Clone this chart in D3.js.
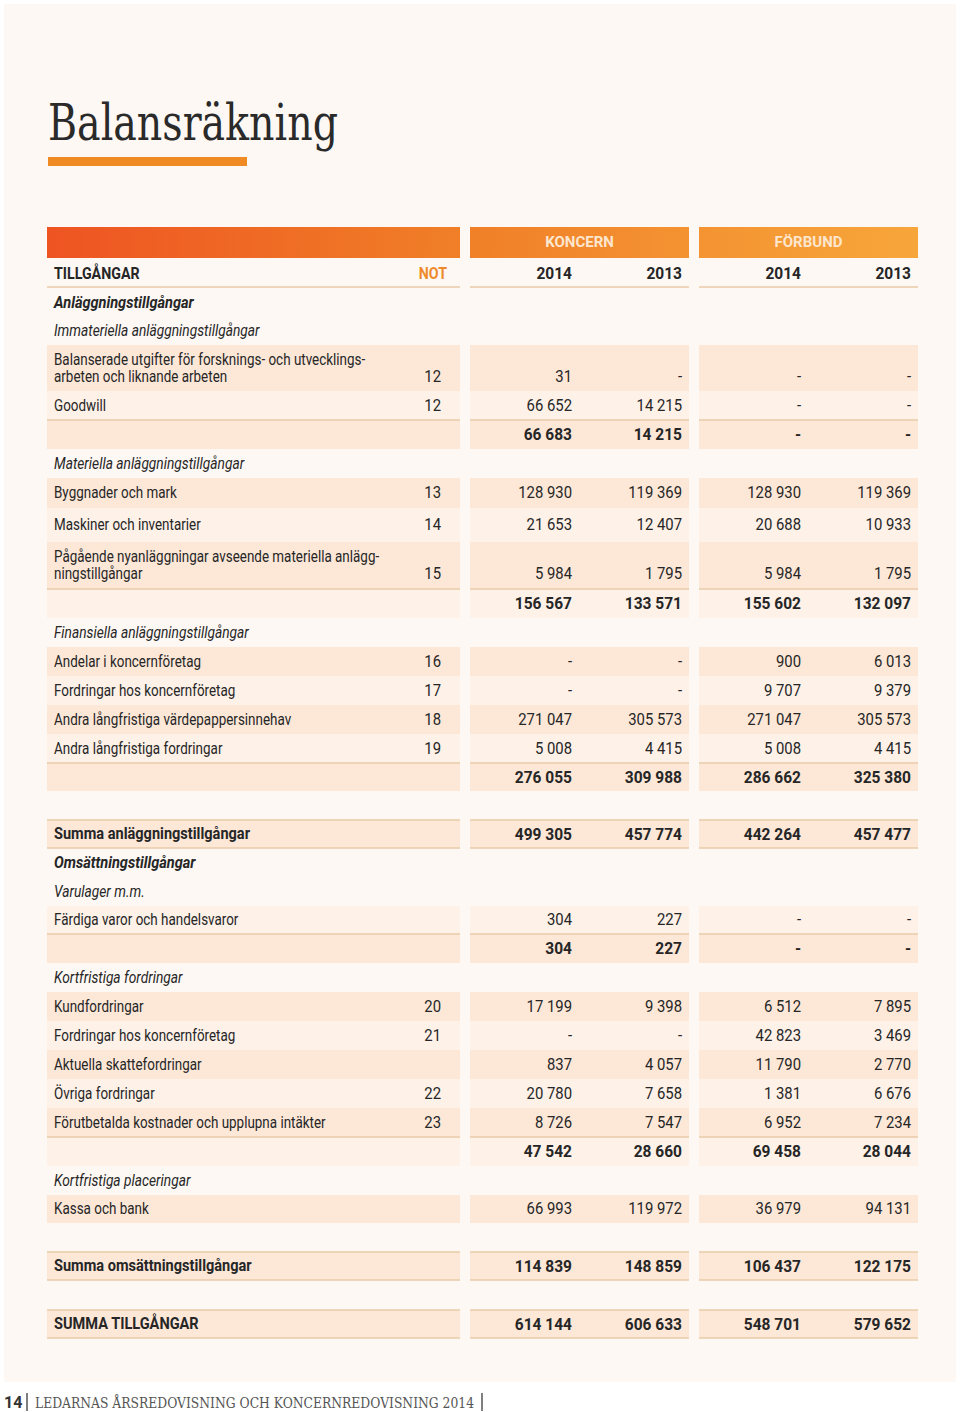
<!DOCTYPE html>
<html><head><meta charset="utf-8">
<script src="https://cdn.jsdelivr.net/npm/d3@7"></script>
<style>
html,body{margin:0;padding:0;background:#ffffff;}
svg{display:block;}
</style></head>
<body>
<script>
// ---------- DATA ----------
const rowLabels = [
  "TILLGÅNGAR","Anläggningstillgångar","Immateriella anläggningstillgångar",
  "Balanserade utgifter för forsknings- och utvecklings-\narbeten och liknande arbeten","Goodwill","",
  "Materiella anläggningstillgångar","Byggnader och mark","Maskiner och inventarier",
  "Pågående nyanläggningar avseende materiella anlägg-\nningstillgångar","",
  "Finansiella anläggningstillgångar","Andelar i koncernföretag","Fordringar hos koncernföretag",
  "Andra långfristiga värdepappersinnehav","Andra långfristiga fordringar","",
  "","Summa anläggningstillgångar","Omsättningstillgångar","Varulager m.m.",
  "Färdiga varor och handelsvaror","","Kortfristiga fordringar","Kundfordringar",
  "Fordringar hos koncernföretag","Aktuella skattefordringar","Övriga fordringar",
  "Förutbetalda kostnader och upplupna intäkter","","Kortfristiga placeringar","Kassa och bank",
  "","Summa omsättningstillgångar","","SUMMA TILLGÅNGAR"
];
const rowKinds = [
  "colhead","h1","h2","item2","item","sub","h2","item","item","item2","sub",
  "h2","item","item","item","item","sub","gap","total","h1","h2","item","sub",
  "h2","item","item","item","item","item","sub","h2","item","gap","total","gap","total"
];
const notes = [
  "NOT","","","12","12","","","13","14","15","","","16","17","18","19","","","","","",
  "","","","20","21","","22","23","","","","","","",""
];
const groupTitles = ["KONCERN","FÖRBUND"];
const yearLabels = ["2014","2013","2014","2013"];
// null = blank, 0 = "-"
const koncern2014 = [null,null,null,31,66652,66683,null,128930,21653,5984,156567,null,0,0,271047,5008,276055,null,499305,null,null,304,304,null,17199,0,837,20780,8726,47542,null,66993,null,114839,null,614144];
const koncern2013 = [null,null,null,0,14215,14215,null,119369,12407,1795,133571,null,0,0,305573,4415,309988,null,457774,null,null,227,227,null,9398,0,4057,7658,7547,28660,null,119972,null,148859,null,606633];
const forbund2014 = [null,null,null,0,0,0,null,128930,20688,5984,155602,null,900,9707,271047,5008,286662,null,442264,null,null,0,0,null,6512,42823,11790,1381,6952,69458,null,36979,null,106437,null,548701];
const forbund2013 = [null,null,null,0,0,0,null,119369,10933,1795,132097,null,6013,9379,305573,4415,325380,null,457477,null,null,0,0,null,7895,3469,2770,6676,7234,28044,null,94131,null,122175,null,579652];
const titleText = "Balansräkning";
const footerPage = "14";
const footerText = "LEDARNAS ÅRSREDOVISNING OCH KONCERNREDOVISNING 2014";

// ---------- LAYOUT ----------
const W = 960, H = 1412;
const rowHeights = [29,29,28,46,29,29,29,30,34,47,29,29,29,29,29,29,28,29,28,29,29,28,29,29,29,29,29,29,29,29,29,28,29,28,30,28];
const shade = ["","","","d","l","d","","d","l","d","l","","d","l","d","l","d","","d","","","l","d","","d","l","d","l","d","l","","d","","d","","d"];
const y0 = 259;
const rowTop = [];
rowHeights.reduce((acc,h,i)=>{rowTop[i]=acc;return acc+h;}, y0);

const blocks = [[47,460],[470,689],[699,918]];
const valueCols = ["k14","k13","f14","f13"];
const xCol = d3.scaleOrdinal().domain(valueCols).range([572,682,801,911]);
const colData = {k14:koncern2014,k13:koncern2013,f14:forbund2014,f13:forbund2013};
const loc = d3.formatLocale({decimal:",", thousands:" ", grouping:[3], currency:["",""]});
const fmt = loc.format(",d");
const fmtVal = v => v === null ? "" : (v === 0 ? "-" : fmt(v));

const BODY = "'Roboto', sans-serif";
const SERIF = "'DejaVu Serif Condensed','DejaVu Serif', serif";
const colText = "#262626";
const lineCol = "#e9cba8";
const darkFill = "#fde8d8";
const lightFill = "#fdf1e8";
// horizontal condensing factors to mimic the narrow original face
const SX = {lbl:0.84, lblBold:0.91, lblItal:0.86, num:0.93, numBold:0.97, head:0.89};
const place = (x,s) => `translate(${x},0) scale(${s},1)`;

const svg = d3.select("body").append("svg").attr("width",W).attr("height",H);
const defs = svg.append("defs");
const grad = defs.append("linearGradient").attr("id","hdr").attr("gradientUnits","userSpaceOnUse")
  .attr("x1",47).attr("x2",918).attr("y1",0).attr("y2",0);
grad.append("stop").attr("offset","0%").attr("stop-color","#ee5422");
grad.append("stop").attr("offset","45%").attr("stop-color","#f07d27");
grad.append("stop").attr("offset","100%").attr("stop-color","#f7a63b");

// page panel
svg.append("rect").attr("x",0).attr("y",0).attr("width",W).attr("height",H).attr("fill","#ffffff");
svg.append("rect").attr("x",4).attr("y",4).attr("width",952).attr("height",1378).attr("fill","#fdf8f4");

// title
svg.append("text").attr("x",48).attr("y",140).text(titleText)
  .attr("font-family",SERIF).attr("font-size",50).attr("fill","#2a2a2a")
  .attr("textLength",290).attr("lengthAdjust","spacingAndGlyphs");
svg.append("rect").attr("x",48).attr("y",157).attr("width",199).attr("height",9).attr("fill","#f08a22");

// header bars
svg.selectAll("rect.hdr").data(blocks).join("rect").attr("class","hdr")
  .attr("x",d=>d[0]).attr("y",227).attr("width",d=>d[1]-d[0]).attr("height",31).attr("fill","url(#hdr)");
svg.selectAll("text.grp").data(groupTitles).join("text").attr("class","grp")
  .attr("x",(d,i)=>(blocks[i+1][0]+blocks[i+1][1])/2).attr("y",247)
  .attr("text-anchor","middle").attr("font-family",BODY).attr("font-weight",700)
  .attr("font-size",15).attr("fill","#fde6ce").text(d=>d);

// row backgrounds
const rows = rowLabels.map((label,i)=>({i,label,kind:rowKinds[i],note:notes[i],top:rowTop[i],h:rowHeights[i],shade:shade[i]}));
const shaded = rows.filter(r=>r.shade);
blocks.forEach(b=>{
  svg.append("g").selectAll("rect").data(shaded).join("rect")
    .attr("x",b[0]).attr("y",r=>r.top).attr("width",b[1]-b[0]).attr("height",r=>r.h)
    .attr("fill",r=>r.shade==="d"?darkFill:lightFill);
});

// lines
const lineYs = [];
rows.forEach(r=>{
  if (r.kind==="colhead") lineYs.push(r.top+r.h-1);
  if (r.kind==="total") { lineYs.push(r.top); lineYs.push(r.top+r.h); }
  if ((r.kind==="item"||r.kind==="item2") && rows[r.i+1] && rows[r.i+1].kind==="sub") lineYs.push(r.top+r.h);
});
blocks.forEach(b=>{
  svg.append("g").selectAll("line").data(lineYs).join("line")
    .attr("x1",b[0]).attr("x2",b[1]).attr("y1",d=>d).attr("y2",d=>d)
    .attr("stroke",lineCol).attr("stroke-width",1.5);
});

// labels
const textY = r => r.kind==="item2" ? r.top+32 : r.top + r.h/2;
const isBold = r => r.kind==="colhead"||r.kind==="h1"||r.kind==="total";
const isItal = r => r.kind==="h1"||r.kind==="h2";
const lbl = svg.append("g").selectAll("text").data(rows.filter(r=>r.label)).join("text")
  .attr("x",0).attr("dominant-baseline","central")
  .attr("transform",r=>place(54, r.kind==="colhead"?SX.head:(isBold(r)?SX.lblBold:(isItal(r)?SX.lblItal:SX.lbl))))
  .attr("font-family",BODY).attr("font-size",16).attr("fill",colText)
  .attr("font-weight",r=>isBold(r)?700:400)
  .attr("font-style",r=>isItal(r)?"italic":"normal");
lbl.each(function(r){
  const parts = r.label.split("\n");
  const t = d3.select(this);
  if (parts.length===1) { t.attr("y",textY(r)).text(parts[0]); }
  else {
    t.attr("y",r.top+15);
    parts.forEach((p,k)=>t.append("tspan").attr("x",0).attr("y",r.top+15+17*k).text(p));
  }
});

// notes
svg.append("g").selectAll("text").data(rows.filter(r=>r.note)).join("text")
  .attr("x",0).attr("y",textY).attr("dominant-baseline","central")
  .attr("transform",r=>r.kind==="colhead"?place(447,SX.head):place(441,SX.num))
  .attr("text-anchor","end").attr("font-family",BODY).attr("font-size",16)
  .attr("font-weight",r=>r.kind==="colhead"?700:400)
  .attr("fill",r=>r.kind==="colhead"?"#ef8a2a":colText).text(r=>r.note);

// year headers
svg.append("g").selectAll("text").data(valueCols).join("text")
  .attr("x",0).attr("y",textY(rows[0])).attr("dominant-baseline","central")
  .attr("transform",c=>place(xCol(c),SX.numBold))
  .attr("text-anchor","end").attr("font-family",BODY).attr("font-size",16).attr("font-weight",700)
  .attr("fill",colText).text((c,i)=>yearLabels[i]);

// values
valueCols.forEach(c=>{
  svg.append("g").selectAll("text").data(rows.filter(r=>colData[c][r.i]!==null && r.kind!=="colhead")).join("text")
    .attr("x",0).attr("y",textY).attr("dominant-baseline","central")
    .attr("transform",r=>place(xCol(c),(r.kind==="sub"||r.kind==="total")?SX.numBold:SX.num))
    .attr("text-anchor","end").attr("font-family",BODY).attr("font-size",16)
    .attr("font-weight",r=>(r.kind==="sub"||r.kind==="total")?700:400)
    .attr("fill",colText).text(r=>fmtVal(colData[c][r.i]));
});

// footer
svg.append("text").attr("x",4).attr("y",1408).attr("font-family",BODY).attr("font-weight",700)
  .attr("font-size",16).attr("fill","#333").text(footerPage);
svg.append("line").attr("x1",27).attr("x2",27).attr("y1",1393).attr("y2",1411).attr("stroke","#555").attr("stroke-width",1.5);
svg.append("text").attr("x",35).attr("y",1408).attr("font-family",SERIF).attr("font-size",14)
  .attr("fill","#555").attr("textLength",439).attr("lengthAdjust","spacingAndGlyphs").text(footerText);
svg.append("line").attr("x1",482).attr("x2",482).attr("y1",1393).attr("y2",1411).attr("stroke","#555").attr("stroke-width",1.5);
</script>
</body></html>
